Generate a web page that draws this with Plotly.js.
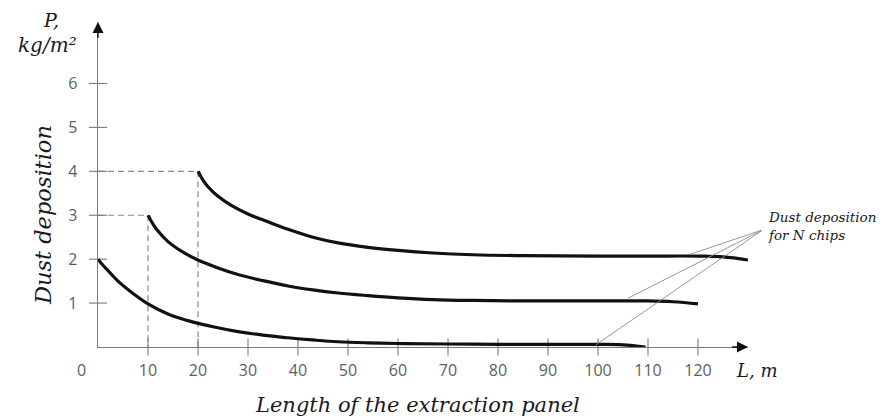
<!DOCTYPE html>
<html>
<head>
<meta charset="utf-8">
<script src="https://cdn.plot.ly/plotly-3.0.1.min.js"></script>
<style>html,body{margin:0;padding:0;background:#fff;}#chart{width:889px;height:419px;}</style>
</head>
<body>
<div id="chart"></div>
<script>
// ---- data ----
const lowX  = [0, 1, 2, 4, 7, 10, 14, 18, 23, 28, 33, 38, 43, 48, 54, 60, 70, 80, 90, 100, 105, 109.5];
const lowY  = [2.0, 1.86, 1.74, 1.5, 1.22, 0.98, 0.75, 0.6, 0.46, 0.35, 0.27, 0.21, 0.16, 0.12, 0.095, 0.08, 0.068, 0.062, 0.06, 0.06, 0.05, 0.0];

const midX  = [10, 11, 12, 14, 17, 20, 24, 28, 33, 38, 43, 48, 54, 60, 67, 75, 85, 100, 110, 115, 120];
const midY  = [3.0, 2.8, 2.64, 2.4, 2.16, 1.98, 1.8, 1.65, 1.51, 1.39, 1.3, 1.23, 1.17, 1.12, 1.08, 1.06, 1.05, 1.05, 1.05, 1.03, 0.98];

const highX = [20, 21, 22, 24, 27, 30, 34, 38, 43, 48, 54, 60, 67, 75, 85, 100, 110, 120, 125, 130];
const highY = [4.0, 3.8, 3.65, 3.43, 3.2, 3.03, 2.85, 2.68, 2.5, 2.37, 2.27, 2.2, 2.14, 2.1, 2.08, 2.07, 2.07, 2.07, 2.05, 1.98];

// dashed guide lines (start points of the curves)
const guide4X = [0, 20, 20];
const guide4Y = [4, 4, 0];
const guide3X = [0, 10, 10];
const guide3Y = [3, 3, 0];

// leader lines of the note: apex and points on the curves
const noteApex = [133, 2.67];
const notePtsX = [118.4, 106, 99.6];
const notePtsY = [2.11, 1.11, 0.05];

const xTickVals = [10, 20, 30, 40, 50, 60, 70, 80, 90, 100, 110, 120];
const xTickText = ['10','20','30','40','50','60','70','80','90','100','110','120'];
const yTickVals = [1, 2, 3, 4, 5, 6];
const yTickText = ['1','2','3','4','5','6'];

const xTitle = 'Length of the extraction panel';
const yTitle = 'Dust deposition';
const noteText = 'Dust deposition<br>for N chips';

// ---- styles ----
const axisGray = '#7a7a7a';
const tickFont = {family: 'Open Sans, sans-serif', size: 16, color: '#5e5e5e'};
const serifIt = (size, color) => ({family: 'DejaVu Serif, serif', size: size, color: color || '#1a1a1a', style: 'italic'});

const curveLine = {color: '#111', width: 3.2, shape: 'spline', smoothing: 1.1};
const dashLine = {color: '#8a8a8a', width: 1.2, dash: '6px,4px'};

const traces = [
  {x: guide4X, y: guide4Y, mode: 'lines', line: dashLine, hoverinfo: 'skip'},
  {x: guide3X, y: guide3Y, mode: 'lines', line: dashLine, hoverinfo: 'skip'},
  // tick marks crossing the axes
  {x: xTickVals, y: xTickVals.map(() => 0), mode: 'markers', cliponaxis: false, hoverinfo: 'skip',
   marker: {symbol: 'line-ns-open', size: 12, color: axisGray, line: {color: axisGray, width: 1.1}}},
  {x: yTickVals.map(() => 0), y: yTickVals, mode: 'markers', cliponaxis: false, hoverinfo: 'skip',
   marker: {symbol: 'line-ew-open', size: 13, color: axisGray, line: {color: axisGray, width: 1.1}}},
  {x: lowX, y: lowY, mode: 'lines', line: curveLine, cliponaxis: false},
  {x: midX, y: midY, mode: 'lines', line: curveLine, cliponaxis: false},
  {x: highX, y: highY, mode: 'lines', line: curveLine, cliponaxis: false}
];

const annotations = [];
// leader lines
for (let i = 0; i < notePtsX.length; i++) {
  annotations.push({x: notePtsX[i], y: notePtsY[i], xref: 'x', yref: 'y',
    ax: noteApex[0], ay: noteApex[1], axref: 'x', ayref: 'y',
    text: '', showarrow: true, arrowhead: 0, arrowwidth: 0.9, arrowcolor: '#8c8c8c', standoff: 0, startstandoff: 0});
}
// axis arrowheads
annotations.push({x: 130, y: 0, xref: 'x', yref: 'y', ax: 126.5, ay: 0, axref: 'x', ayref: 'y',
  text: '', showarrow: true, arrowhead: 2, arrowsize: 1.7, arrowwidth: 1.3, arrowcolor: '#111', standoff: 0});
annotations.push({x: 0, y: 7.4, xref: 'x', yref: 'y', ax: 0, ay: 7.0, axref: 'x', ayref: 'y',
  text: '', showarrow: true, arrowhead: 2, arrowsize: 1.7, arrowwidth: 1.3, arrowcolor: '#111', standoff: 0});
// texts (paper coordinates so they are not hidden outside the axis ranges)
const P = (x, y, text, font, extra) => Object.assign({x: x, y: y, xref: 'paper', yref: 'paper', text: text,
  showarrow: false, font: font, xanchor: 'center', yanchor: 'middle'}, extra || {});
annotations.push(P(-0.072, 1.006, 'P,', serifIt(19)));
annotations.push(P(-0.078, 0.929, 'kg/m²', serifIt(20)));
annotations.push(P(-0.0846, 0.406, yTitle, serifIt(22.5), {textangle: -90}));
annotations.push(P(0.492, -0.177, xTitle, serifIt(21)));
annotations.push(P(1.0138, -0.071, 'L, m', serifIt(18)));
annotations.push(P(-0.026, -0.071, '0', tickFont));
annotations.push(P(1.0277, 0.372, noteText, serifIt(13.5), {xanchor: 'left', align: 'left'}));

const layout = {
  width: 889, height: 419,
  margin: {l: 98, r: 141, t: 22, b: 72},
  paper_bgcolor: '#fff', plot_bgcolor: 'rgba(0,0,0,0)',
  showlegend: false,
  xaxis: {range: [0, 130], showgrid: false, zeroline: false, showline: true, linecolor: axisGray, linewidth: 1.3,
    ticks: '', tickmode: 'array', tickvals: xTickVals, ticktext: xTickText, tickfont: tickFont, ticklabelstandoff: 8},
  yaxis: {range: [0, 7.4], showgrid: false, zeroline: false, showline: true, linecolor: axisGray, linewidth: 1.3,
    ticks: '', tickmode: 'array', tickvals: yTickVals, ticktext: yTickText, tickfont: tickFont, ticklabelstandoff: 16},
  annotations: annotations
};

Plotly.newPlot('chart', traces, layout, {staticPlot: true, displayModeBar: false});
</script>
</body>
</html>
